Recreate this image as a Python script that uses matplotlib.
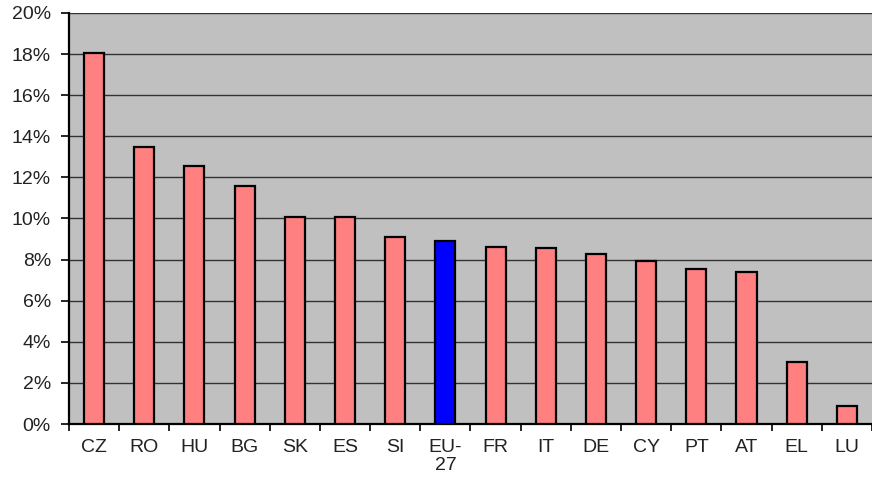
import matplotlib.pyplot as plt
from matplotlib.ticker import FixedLocator, PercentFormatter
import numpy as np

plt.rcParams['font.family'] = ['Liberation Sans', 'DejaVu Sans']

countries = ["CZ", "RO", "HU", "BG", "SK", "ES", "SI", "EU-\n27", "FR", "IT",
             "DE", "CY", "PT", "AT", "EL", "LU"]
values = [18.05, 13.5, 12.55, 11.6, 10.05, 10.05, 9.1, 8.9, 8.6, 8.55,
          8.25, 7.95, 7.55, 7.4, 3.0, 0.88]
highlight = "EU-\n27"

colors = ["#0000FF" if c == highlight else "#FF8080" for c in countries]
x = np.arange(len(countries))

fig = plt.figure(figsize=(8.72, 4.79), dpi=100)
ax = fig.add_axes([0.0791, 0.1148, 0.9209, 0.8581])
ax.set_facecolor("#C0C0C0")

ax.bar(x, values, width=0.4, color=colors, edgecolor="black", linewidth=1.6, zorder=3)

ax.set_ylim(0, 20)
ax.set_xlim(-0.5, len(countries) - 0.5)
ax.set_yticks(np.arange(0, 21, 2))
ax.yaxis.set_major_formatter(PercentFormatter(decimals=0))
ax.grid(axis="y", color="#333333", linewidth=1.0, zorder=1)

ax.set_xticks(x)
ax.set_xticklabels(countries, fontsize=14, color="#222222", linespacing=1.05)
ax.xaxis.set_minor_locator(FixedLocator(np.arange(-0.5, len(countries), 1)))
ax.tick_params(axis="x", which="major", length=0, pad=11)
ax.tick_params(axis="x", which="minor", length=5, width=1.2, direction="out")
ax.tick_params(axis="y", length=6, width=1.2, labelsize=14, labelcolor="#222222", pad=7)

for s in ["top", "right"]:
    ax.spines[s].set_visible(False)
ax.spines["left"].set_linewidth(1.6)
ax.spines["bottom"].set_linewidth(1.6)

fig.savefig("out.png", dpi=100)
